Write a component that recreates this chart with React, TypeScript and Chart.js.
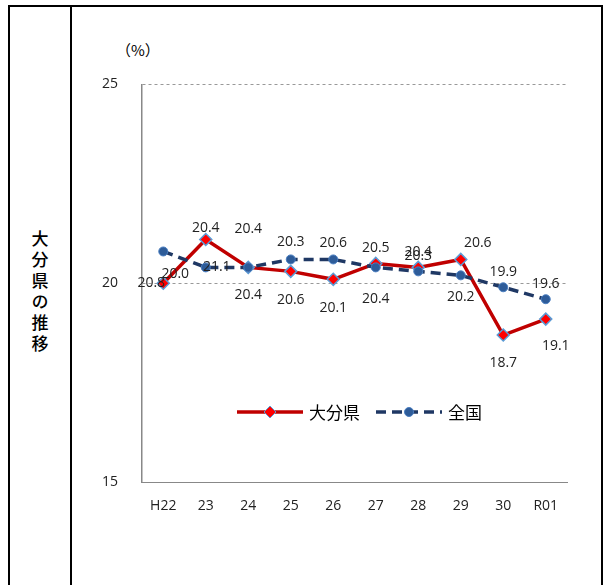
import { useRef, useEffect } from "react";
import { Chart, registerables } from "chart.js";

Chart.register(...registerables);

const categories = ["H22", "23", "24", "25", "26", "27", "28", "29", "30", "R01"];
const oitaValues = [20.0, 21.1, 20.4, 20.3, 20.1, 20.5, 20.4, 20.6, 18.7, 19.1];
const nationalValues = [20.8, 20.4, 20.4, 20.6, 20.6, 20.4, 20.3, 20.2, 19.9, 19.6];
// labels as printed in the source (they are shifted there)
const oitaLabels = ["20.8", "20.4", "20.4", "20.6", "20.1", "20.5", "20.4", "20.6", "18.7", "19.1"];
const nationalLabels = ["20.0", "21.1", "20.4", "20.3", "20.6", "20.4", "20.3", "20.2", "19.9", "19.6"];
// label offsets in px [dx, dy]
const oitaOffsets = [[-12, 0], [0, -12], [0, 28], [0, 29], [0, 29], [0, -15], [0, -15], [17, -16], [0, 28], [10, 27]];
const natOffsets = [[12, 23], [11, 0], [0, -38], [0, -17], [0, -16], [0, 32], [0, -15], [0, 22], [0, -15], [0, -15]];

const labelPlugin = {
  id: "pointLabels",
  afterDatasetsDraw(chart: Chart) {
    const ctx = chart.ctx;
    const x = chart.scales.x;
    const y = chart.scales.y;
    ctx.save();
    ctx.font = "14px 'Open Sans', sans-serif";
    ctx.fillStyle = "#222";
    ctx.textAlign = "center";
    ctx.textBaseline = "middle";
    const draw = (vals: number[], labels: string[], offs: number[][]) => {
      vals.forEach((v, i) => {
        ctx.fillText(labels[i], x.getPixelForValue(i) + offs[i][0], y.getPixelForValue(v) + offs[i][1]);
      });
    };
    draw(nationalValues, nationalLabels, natOffsets);
    draw(oitaValues, oitaLabels, oitaOffsets);
    ctx.restore();
  },
};

const border = "2px solid #000";

const App = () => {
  const chartRef = useRef<HTMLCanvasElement | null>(null);

  useEffect(() => {
    if (!chartRef.current) return;
    const chart = new Chart(chartRef.current, {
      type: "line",
      data: {
        labels: categories,
        datasets: [
          {
            label: "全国",
            data: nationalValues,
            borderColor: "#1f3864",
            borderWidth: 3.5,
            borderDash: [10, 6],
            pointStyle: "circle",
            pointRadius: 4.5,
            pointBackgroundColor: "#2e5c99",
            pointBorderColor: "#4a7ec0",
            pointBorderWidth: 1,
          },
          {
            label: "大分県",
            data: oitaValues,
            borderColor: "#c00000",
            borderWidth: 3.5,
            pointStyle: "rectRot",
            pointRadius: 6,
            pointBackgroundColor: "#ff0000",
            pointBorderColor: "#5b9bd5",
            pointBorderWidth: 1.5,
          },
        ],
      },
      options: {
        animation: false,
        responsive: false,
        layout: { padding: { left: 0, right: 36, top: 0, bottom: 0 } },
        plugins: { legend: { display: false }, tooltip: { enabled: false } },
        scales: {
          x: {
            offset: true,
            grid: { display: false },
            border: { color: "#888", width: 1 },
            ticks: { color: "#222", font: { size: 14, family: "'Open Sans', sans-serif" }, padding: 7 },
          },
          y: {
            min: 15,
            max: 25,
            afterBuildTicks: (s: any) => { s.ticks = [{ value: 15 }, { value: 20 }, { value: 25 }]; },
            grid: {
              color: (c: any) => (c.tick && c.tick.value === 15 ? "transparent" : "#999"),
              tickLength: 0,
            },
            border: { display: true, color: "#888", width: 1.5, dash: [3, 3] },
            ticks: { color: "#222", font: { size: 14, family: "'Open Sans', sans-serif" }, padding: 24 },
          },
        },
      },
      plugins: [labelPlugin],
    });
    return () => chart.destroy();
  }, []);

  return (
    <div style={{ position: "absolute", left: 8, top: 5, width: 595, height: 585, borderTop: border, borderLeft: border, borderRight: border, boxSizing: "border-box", fontFamily: "'Noto Sans CJK JP', sans-serif" }}>
      <div style={{ position: "absolute", left: 0, top: 0, width: 60, height: 580, borderRight: border, display: "flex", alignItems: "center", justifyContent: "center" }}>
        <div style={{ writingMode: "vertical-rl", fontSize: 17, letterSpacing: 4, marginTop: -8, fontWeight: 500 }}>大分県の推移</div>
      </div>
      <div style={{ position: "absolute", left: 106, top: 32, fontSize: 15 }}>（%）</div>
      <canvas ref={chartRef} width={525} height={469} style={{ position: "absolute", left: 68, top: 45 }} />
      <div style={{ position: "absolute", left: 225, top: 392, display: "flex", alignItems: "center", fontSize: 17 }}>
        <svg width="70" height="14"><line x1="2" y1="7" x2="68" y2="7" stroke="#c00000" strokeWidth="3.5" /><polygon points="35,1 41,7 35,13 29,7" fill="#ff0000" stroke="#5b9bd5" /></svg>
        <span style={{ marginLeft: 4, marginRight: 14 }}>大分県</span>
        <svg width="70" height="14"><line x1="2" y1="7" x2="68" y2="7" stroke="#1f3864" strokeWidth="3.5" strokeDasharray="10 6" /><circle cx="35" cy="7" r="4.5" fill="#2e5c99" stroke="#4a7ec0" /></svg>
        <span style={{ marginLeft: 4 }}>全国</span>
      </div>
    </div>
  );
};

export default App;
